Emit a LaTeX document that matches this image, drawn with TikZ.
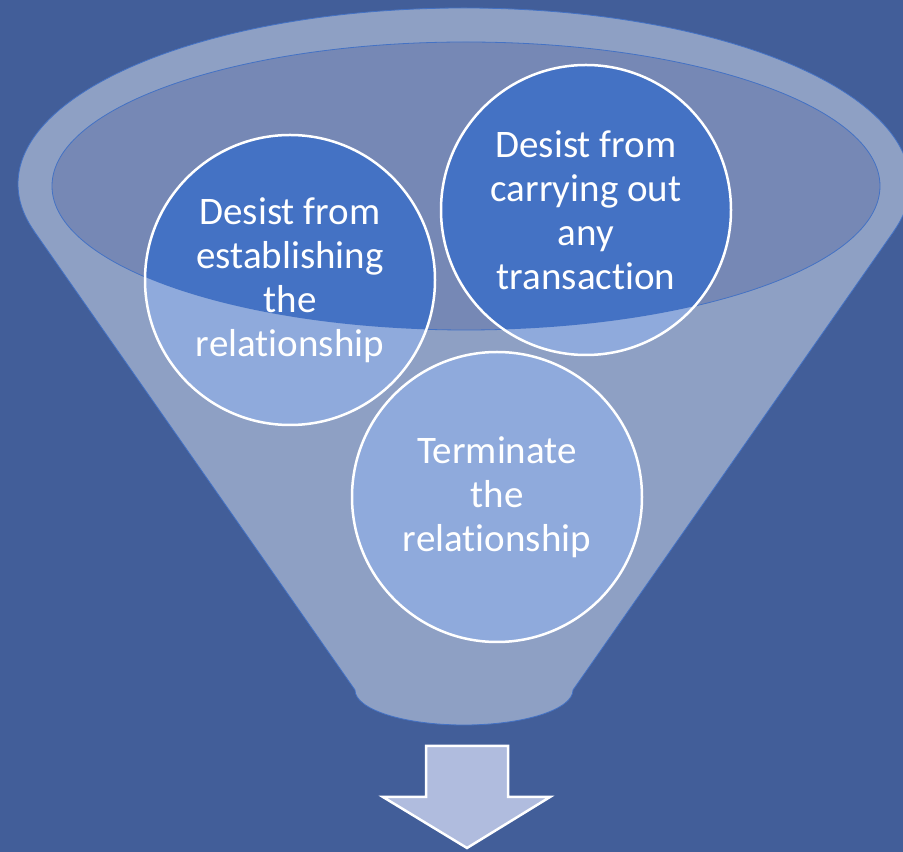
\documentclass[tikz,border=0pt]{standalone}
\usepackage{fontspec}
\setmainfont{Carlito}[Ligatures={NoCommon,NoContextual}]
\usepackage{xcolor}
\usepackage{tikz}

\definecolor{backblue}{HTML}{425E99}
\definecolor{funnelgray}{HTML}{8EA0C4}
\definecolor{lidgray}{HTML}{7688B5}
\definecolor{edgeblue}{HTML}{4472C4}
\definecolor{deepblue}{HTML}{4472C4}
\definecolor{paleblue}{HTML}{8FAADC}
\definecolor{arrowblue}{HTML}{B0BCDE}

\pgfdeclarelayer{bg}
\pgfsetlayers{bg,main}

\begin{document}
\begin{tikzpicture}[x=1pt,y=1pt,
                    bubble/.style={circle,draw=white,line width=2.5pt,
                    minimum size=290pt,inner sep=0pt,
                    text=white,align=center,
                    font=\fontsize{39}{44}\selectfont},
                    rim/.style={draw=edgeblue,line width=0.8pt}]
    \useasboundingbox (0,0) rectangle (903,852);
    \begin{pgfonlayer}{bg}
        \fill[backblue] (0,0) rectangle (903,852);
        \clip (0,0) rectangle (903,852);
        % funnel body
        \filldraw[fill=funnelgray,rim] (464,668) ellipse [x radius=446,y radius=176];
        \fill[funnelgray] (34,621) -- (355,162)
              arc [start angle=180,end angle=360,x radius=109,y radius=35] -- (894,621) -- cycle;
        \draw[rim] (34,621) -- (355,162)
              arc [start angle=180,end angle=360,x radius=109,y radius=35] -- (894,621);
        % lid
        \filldraw[fill=lidgray,rim] (466,666) ellipse [x radius=414,y radius=144];
    \end{pgfonlayer}

    \node[bubble](establish) at (290,572) {Desist from\\establishing\\the\\relationship};
    \node[bubble](transact) at (586,642) {Desist from\\carrying out\\any\\transaction};
    \node[bubble](terminate) at (497,355) {Terminate\\the\\relationship};

    \begin{pgfonlayer}{bg}
        \foreach \n in {establish,transact,terminate}
            \fill[paleblue] (\n.center) circle [radius=145];
        \begin{scope}
            \clip (466,666) ellipse [x radius=414,y radius=144];
            \foreach \n in {establish,transact,terminate}
                \fill[deepblue] (\n.center) circle [radius=145];
        \end{scope}
    \end{pgfonlayer}

    % outlet arrow
    \filldraw[fill=arrowblue,draw=white,line width=2.5pt]
        (426,106) -- (508,106) -- (508,55) -- (550,55) -- (467,4)
        -- (383,55) -- (426,55) -- cycle;
\end{tikzpicture}
\end{document}
